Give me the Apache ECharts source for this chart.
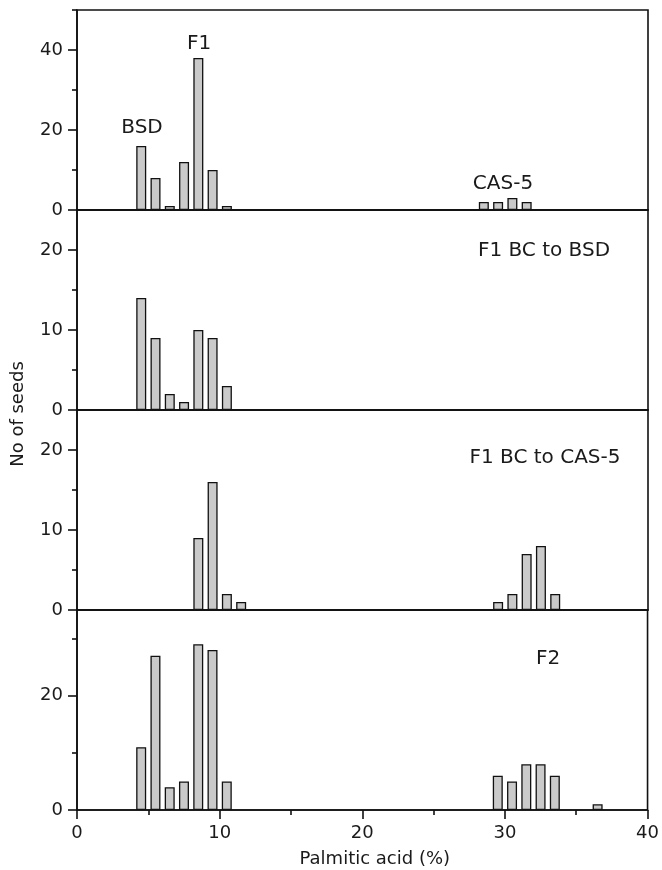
<!DOCTYPE html>
<html><head><meta charset="utf-8">
<script src="https://cdn.jsdelivr.net/npm/echarts@6/dist/echarts.min.js"></script>
<style>html,body{margin:0;padding:0;background:#fff}#chart{width:662px;height:870px}</style>
</head><body><div id="chart"></div>
<script>
// ---- data ----
const xTickLabels = [0, 10, 20, 30, 40];
const xMinorTicks = [5, 15, 25, 35];

// panel 1: BSD, F1, CAS-5 parents
const p1Pct   = [4.5, 5.5, 6.5, 7.5, 8.5, 9.5, 10.5, 28.5, 29.5, 30.5, 31.5];
const p1Count = [16, 8, 1, 12, 38, 10, 1, 2, 2, 3, 2];
// panel 2: F1 BC to BSD
const p2Pct   = [4.5, 5.5, 6.5, 7.5, 8.5, 9.5, 10.5];
const p2Count = [14, 9, 2, 1, 10, 9, 3];
// panel 3: F1 BC to CAS-5
const p3Pct   = [8.5, 9.5, 10.5, 11.5, 29.5, 30.5, 31.5, 32.5, 33.5];
const p3Count = [9, 16, 2, 1, 1, 2, 7, 8, 2];
// panel 4: F2
const p4Pct   = [4.5, 5.5, 6.5, 7.5, 8.5, 9.5, 10.5, 29.5, 30.5, 31.5, 32.5, 33.5, 36.5];
const p4Count = [11, 27, 4, 5, 29, 28, 5, 6, 5, 8, 8, 6, 1];

const yMaxes = [50, 25, 25, 35];
const yTickLabels = [[0, 20, 40], [0, 10, 20], [0, 10, 20], [0, 20]];
const yMinorTicks = [[10, 30, 50], [5, 15], [5, 15], [10, 30]];

const annotations = ['BSD', 'F1', 'CAS-5', 'F1 BC to BSD', 'F1 BC to CAS-5', 'F2'];
const xTitle = 'Palmitic acid (%)';
const yTitle = 'No of seeds';

// ---- chart ----
const panels = [[p1Pct, p1Count], [p2Pct, p2Count], [p3Pct, p3Count], [p4Pct, p4Count]];
const FONT = 'DejaVu Sans';
const INK = '#1a1a1a';
const LINE = {color: '#111', width: 1.6};
const gridTops = [10, 210, 410, 610];

const grid = [], xAxis = [], yAxis = [], series = [];
panels.forEach((p, i) => {
  const last = i === 3;
  grid.push({left: 77, right: 14, top: gridTops[i], height: 200, show: true,
    borderColor: '#111', borderWidth: 1.6, backgroundColor: 'transparent'});
  xAxis.push({
    gridIndex: i, type: 'value', min: 0, max: 40, interval: 10, position: 'bottom',
    axisLine: {show: true, onZero: false, lineStyle: LINE},
    axisTick: {show: last, length: 9, lineStyle: LINE, customValues: xTickLabels},
    minorTick: {show: last, splitNumber: 2, length: 5, lineStyle: LINE},
    axisLabel: {show: last, customValues: xTickLabels, fontFamily: FONT, fontSize: 18, color: INK, margin: 14},
    splitLine: {show: false}, minorSplitLine: {show: false},
    name: last ? xTitle : '', nameLocation: 'middle', nameGap: 40,
    nameTextStyle: {fontFamily: FONT, fontSize: 18, color: INK, padding: [0, 0, 0, 25]}
  });
  yAxis.push({
    gridIndex: i, type: 'value', min: 0, max: yMaxes[i], interval: 5, position: 'left',
    axisLine: {show: true, onZero: false, lineStyle: LINE},
    axisTick: {show: true, length: 9, lineStyle: LINE, customValues: yTickLabels[i]},
    axisLabel: {customValues: yTickLabels[i], fontFamily: FONT, fontSize: 18, color: INK, margin: 14},
    splitLine: {show: false}
  });
  yAxis.push({
    gridIndex: i, type: 'value', min: 0, max: yMaxes[i], interval: 5, position: 'left', offset: 0,
    axisLine: {show: false, onZero: false},
    axisTick: {show: true, length: 5, lineStyle: LINE, customValues: yMinorTicks[i]},
    axisLabel: {show: false},
    splitLine: {show: false}
  });
  series.push({
    type: 'bar', xAxisIndex: i, yAxisIndex: 2 * i,
    data: p[0].map((x, j) => [x, p[1][j]]),
    barWidth: 10,
    itemStyle: {color: '#cacaca', borderColor: '#111', borderWidth: 1.3},
    emphasis: {disabled: true}, animation: false
  });
});

function txt(t, x, y, size, rot) {
  return {type: 'text', x: x, y: y, rotation: rot || 0,
    style: {text: t, fontFamily: FONT, fontSize: size, fill: INK, align: 'center', verticalAlign: 'middle'}};
}

const chart = echarts.init(document.getElementById('chart'), null, {renderer: 'canvas'});
chart.setOption({
  animation: false,
  backgroundColor: '#fff',
  grid, xAxis, yAxis, series,
  graphic: [
    txt(annotations[0], 142, 128, 20),
    txt(annotations[1], 199, 44, 20),
    txt(annotations[2], 503, 184, 20),
    txt(annotations[3], 544, 251, 20),
    txt(annotations[4], 545, 458, 20),
    txt(annotations[5], 548, 659, 20),
    txt(yTitle, 18, 414, 18, Math.PI / 2)
  ]
});
</script></body></html>
